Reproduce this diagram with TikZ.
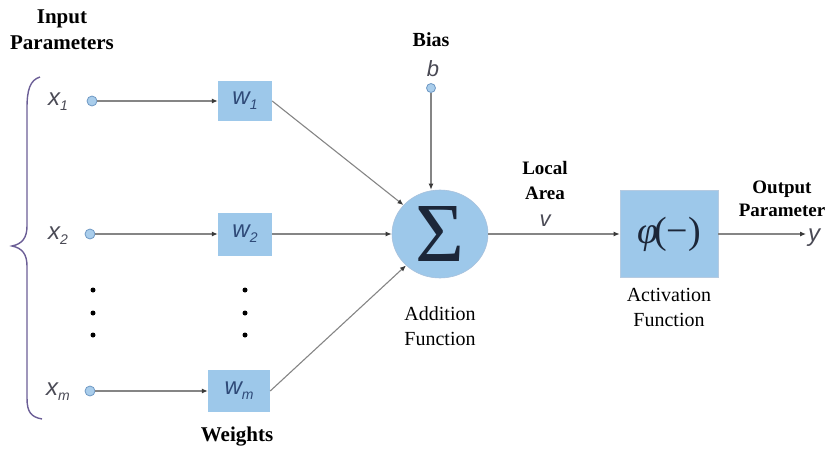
\documentclass[tikz,border=0pt]{standalone}
\usepackage{fontspec}
\setmainfont{Liberation Serif}
\newfontfamily\symfont{Liberation Sans}
\usetikzlibrary{arrows.meta,shapes.geometric}
\definecolor{cellblue}{HTML}{9DC8EA}
\definecolor{dotblue}{HTML}{A9CDEB}
\definecolor{dotedge}{HTML}{6E98C4}
\definecolor{wirecol}{HTML}{858585}
\definecolor{tipcol}{HTML}{3A3A3A}
\definecolor{symcol}{HTML}{4A4A55}
\definecolor{wcol}{HTML}{2F4A78}
\definecolor{sigcol}{HTML}{1C2638}
\definecolor{bracecol}{HTML}{6B5E96}
\tikzset{
  wire/.style={draw=wirecol, line width=1.1pt},
  arrowwire/.style={wire, -{Latex[length=6pt,width=5pt,color=tipcol]}},
  inport/.style={circle, draw=dotedge, fill=dotblue, line width=0.8pt, minimum size=10pt, inner sep=0pt},
  weightbox/.style={rectangle, fill=cellblue, minimum width=54pt, minimum height=40pt, inner sep=0pt,
    font=\symfont\itshape\fontsize{24}{24}\selectfont, text=wcol},
  varlabel/.style={font=\symfont\itshape\fontsize{24}{24}\selectfont, text=symcol, inner sep=0pt},
  heading/.style={font=\bfseries\fontsize{21}{26}\selectfont, align=center, inner sep=0pt},
  caption/.style={font=\fontsize{20}{25}\selectfont, align=center, inner sep=0pt},
  vdot/.style={circle, fill=black, minimum size=5pt, inner sep=0pt}
}
\newcommand{\subidx}[1]{\raisebox{-5pt}{\fontsize{14}{14}\selectfont #1}}
\begin{document}
\begin{tikzpicture}[x=1pt, y=-1pt]
\useasboundingbox (0,0) rectangle (828,450);

% input parameter brace
\draw[bracecol, line width=1.4pt]
  (40,77) .. controls (30,80) and (27,90) .. (27,108)
  -- (27,226) .. controls (27,238) and (22,244) .. (12,246)
  .. controls (22,248) and (27,254) .. (27,266)
  -- (27,398) .. controls (27,412) and (31,417) .. (42,419);

\node[heading] (inhead) at (62,30) {Input\\Parameters};

% inputs
\node[varlabel] (x1l) at (58,102) {x\subidx{1}};
\node[varlabel] (x2l) at (58,236) {x\subidx{2}};
\node[varlabel] (xml) at (58,392) {x\subidx{m}};
\node[inport] (x1) at (92,101) {};
\node[inport] (x2) at (90,234) {};
\node[inport] (xm) at (90,391) {};

\node[vdot] (xd1) at (93,290) {};
\node[vdot] (xd2) at (93,313) {};
\node[vdot] (xd3) at (93,335) {};

% weights
\node[weightbox] (w1) at (245,101) {w\subidx{1}};
\node[weightbox, minimum height=43pt] (w2) at (245,234) {w\subidx{2}};
\node[weightbox, minimum width=62pt, minimum height=42pt] (wm) at (239,391) {w\subidx{m}};

\node[vdot] (wd1) at (245,290) {};
\node[vdot] (wd2) at (245,313) {};
\node[vdot] (wd3) at (245,335) {};

\node[heading] (wlab) at (237,437) {Weights};

% summing junction and bias
\node[ellipse, fill=cellblue, draw=dotedge!60, line width=0.6pt, minimum width=96pt, minimum height=88pt, inner sep=0pt, text=sigcol]
  (sum) at (440,234) {\fontsize{84}{84}\selectfont Σ};
\node[heading, font=\bfseries\fontsize{20}{24}\selectfont] (bias) at (431,40) {Bias};
\node[varlabel, font=\symfont\itshape\fontsize{22}{22}\selectfont] (blab) at (433,69) {b};
\node[inport, minimum size=9pt] (b) at (431,88) {};
\node[caption] (sumlab) at (440,326) {Addition\\Function};

% activation
\node[rectangle, fill=cellblue, draw=dotedge!50, line width=0.6pt, minimum width=98pt, minimum height=87pt, inner sep=0pt, text=sigcol]
  (act) at (669,234) {\fontsize{38}{38}\selectfont\itshape φ\kern-4pt\upshape(−)};
\node[caption] (actlab) at (669,307) {Activation\\Function};

\node[caption, font=\bfseries\fontsize{19}{25}\selectfont] (locallab) at (545,180) {Local\\Area};
\node[varlabel, font=\symfont\itshape\fontsize{22}{22}\selectfont] (vlab) at (545,221) {v};

\node[caption, font=\bfseries\fontsize{19}{23}\selectfont] (outlab) at (782,199) {Output\\Parameter};
\coordinate (yend) at (806,234);
\node[varlabel, anchor=west] (ylab) at (808,238) {y};

% connections
\draw[arrowwire] (x1) -- (w1);
\draw[arrowwire] (x2) -- (w2);
\draw[arrowwire] (xm) -- (wm);
\draw[arrowwire] (w1.east) -- (sum);
\draw[arrowwire] (w2) -- (sum);
\draw[arrowwire] (wm.east) -- (sum);
\draw[arrowwire] (b) -- (sum.north -| b);
\draw[arrowwire] (sum) -- (act);
\draw[arrowwire] (act) -- (yend);
\end{tikzpicture}
\end{document}
